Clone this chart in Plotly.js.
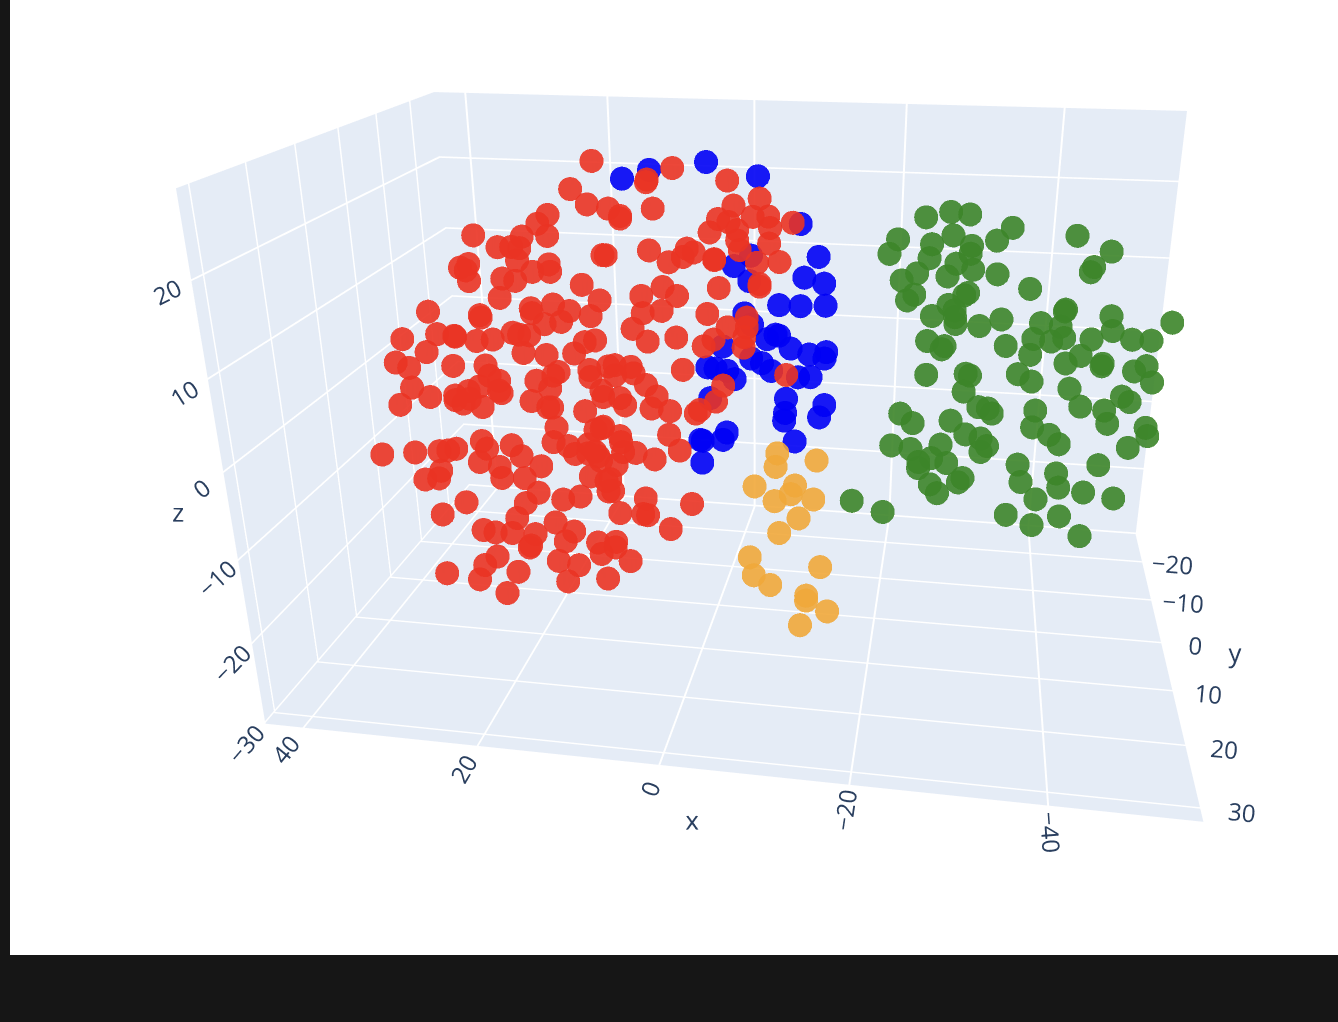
<!DOCTYPE html>
<html>
<head>
<script src="https://cdn.plot.ly/plotly-3.0.1.min.js"></script>
<style>
html,body{margin:0;padding:0;background:#161616;overflow:hidden}
#frame{position:absolute;left:10px;top:0;width:1328px;height:955px;background:#fff;overflow:hidden}
#plot{position:absolute;left:0;top:-137px;width:1492px;height:1069px}
</style>
</head>
<body>
<div id="frame"><div id="plot"></div></div>
<script>
// Values. Depth along y cannot be read from a single view,
// so the points sit on one estimated y plane, apart from a few that fall below the floor there.
const redX = [14.1,16.8,14.9,12.4,19.7,21.0,19.9,29.0,23.0,26.1,24.4,23.4,23.8,12.9,13.3,29.9,31.0,30.3,30.0,19.9,19.8,22.0,25.8,24.2,16.0,26.3,13.9,22.5,22.4,19.7,17.7,15.1,18.8,20.9,29.0,28.9,35.6,34.7,32.5,32.4,29.7,27.6,25.0,24.2,22.9,23.8,20.9,17.4,16.0,14.7,39.3,36.3,40.5,38.8,33.0,28.8,28.4,27.2,38.7,36.4,19.5,20.2,22.4,15.6,15.5,13.2,29.8,31.3,33.1,27.3,20.7,14.2,
	40.5,33.1,32.1,31.2,29.6,27.0,23.2,21.1,20.6,20.2,20.7,16.4,15.2,14.4,14.0,43.7,39.2,35.9,34.7,33.6,30.1,29.5,30.6,26.2,25.0,22.5,28.0,27.8,38.2,35.9,36.3,24.8,23.1,24.9,32.9,19.9,17.6,36.3,26.2,21.1,30.9,29.3,27.0,23.9,24.6,24.8,18.7,19.9,15.6,15.2,21.0,18.3,29.3,31.1,26.6,36.5,32.0,26.3,19.9,14.5,
	18.8,18.0,16.2,16.3,15.4,14.7,16.1,14.1,13.9,11.3,11.9,8.6,7.3,8.0,5.7,5.9,4.6,7.8,10.2,12.0,14.2,12.1,11.8,15.0,12.7,13.6,13.3,9.1,3.2,12.5,9.5,8.9,6.0,13.2,13.3,11.4,2.0,2.5,0,-0.9,
	4.7,7.7,7.8,-1.6,-5.3,-2.3,7.1,11.0,11.0,-0.5,-1.7,-4.5,-6.3,-6.5,-9.1,0.5,-2.7,-2.7,-3.0,-6.4,7.7,3.2,2.4,3.7,5.4,0,0,-5.0,-7.6,-0.5,-5.3,-5.3,6.2,4.5,8.8,8.7,6.4,0.9,10.0,8.2,4.7,-3.8,-3.8,-1.5,0.2,1.4,-3.5,-3.4,4.0,-8.5,12.4,10.4,10.1,12.4];
const redZ = [26.0,22.7,21.0,20.6,19.6,18.5,17.1,16.8,16.9,15.5,15.6,15.5,14.0,15.1,15.1,13.3,12.8,12.5,11.2,13.7,12.8,12.7,11.7,11.5,11.4,9.3,9.6,8.2,7.6,8.8,8.1,7.6,6.7,6.3,7.0,6.7,7.1,4.3,4.2,4.1,3.7,4.0,5.0,4.8,4.8,2.5,2.4,2.8,4.3,4.6,3.4,1.9,0.3,-0.3,0.3,0.6,-0.7,-1.3,-2.9,-4.0,0.3,-0.2,-1.0,0.8,-0.1,1.4,-2.2,-2.9,-3.6,-2.6,-1.9,-1.8,
	-5.3,-4.2,-4.6,-3.9,-4.9,-2.9,-3.7,-4.4,-4.4,-7.0,-9.0,-4.6,-7.0,-6.7,-2.6,-12.3,-11.7,-11.3,-11.1,-10.8,-9.5,-10.5,-12.4,-9.8,-11.2,-12.4,-12.9,-14.4,-15.4,-14.0,-15.1,-14.2,-16.1,-17.7,-18.2,-16.8,-16.2,-20.2,-19.9,-20.1,-22.0,-22.2,-22.1,-22.0,-23.7,-24.0,-21.2,-22.7,-22.5,-24.1,-25.6,-26.0,-25.7,-27.1,-27.7,-28.8,-29.3,-27.9,-28.5,-27.6,
	-9.4,-10.4,-9.0,-10.2,-9.9,-11.1,-13.3,-13.8,-15.2,-3.5,-2.6,-0.7,-2.1,-3.7,-3.9,-7.0,-9.0,-10.4,-9.7,-8.4,-6.5,-7.6,-9.7,-10.5,-11.5,-13.5,-15.1,-15.8,-16.1,-18.1,-18.0,-18.1,-19.8,-22.2,-23.0,-24.8,-3.5,-4.0,-2.3,-0.2,
	25.5,24.1,23.8,24.3,22.4,21.5,20.8,19.8,19.5,19.9,19.6,20.3,20.4,19.1,19.8,18.3,18.7,17.5,16.4,17.3,15.9,16.3,15.9,15.3,14.6,15.2,15.1,15.0,15.2,11.8,12.5,12.2,11.6,10.6,10.4,8.3,8.7,8.6,6.3,4.8,5.5,8.4,7.2,7.1,5.5,4.6,6.0,4.7,1.5,1.6,1.6,1.5,0.7,0.3];
const redY = [0,0,0,0,0,0,0,0,0,0,0,0,0,0,0,0,0,0,0,0,0,0,0,0,0,0,0,0,0,0,0,0,0,0,0,0,0,0,0,0,0,0,0,0,0,0,0,0,0,0,0,0,0,0,0,0,0,0,0,0,0,0,0,0,0,0,0,0,0,0,0,0,
	0,0,0,0,0,0,0,0,0,0,0,0,0,0,0,0,0,0,0,0,0,0,0,0,0,0,0,0,0,0,0,0,0,0,0,0,0,0,0,0,0,0,0,0,0,0,0,0,0,0,0,0,0,0,0,0,0,5,0,0,
	0,0,0,0,0,0,0,0,0,0,0,0,0,0,0,0,0,0,0,0,0,0,0,0,0,0,0,0,0,0,0,0,0,0,0,0,0,0,0,0,
	0,0,0,0,0,0,0,0,0,0,0,0,0,0,0,0,0,0,0,0,0,0,0,0,0,0,0,0,0,0,0,0,0,0,0,0,0,0,0,0,0,0,0,0,0,0,0,0,0,0,0,0,0,0];

const blueX = [10.6,7.4,0.8,-5.1,-10.0,-12.1,-10.5,-12.8,-7.6,-10.1,-13.0,-2.3,-4.3,-4.1,-3.5,-4.4,-0.9,-6.2,-7.2,-7.6,-4.3,-5.6,-6.7,-9.0,-11.2,-13.2,-13.0,-9.9,-11.4,1.0,0,-1.4,-2.3,0.7,1.7,2.0,-0.8,-1.3,1.8,-9.6,-8.5,-8.4,-8.3,-13.1,-12.5];
const blueZ = [24.1,25.2,26.3,24.9,19.7,16.0,13.5,12.9,10.1,10.1,10.3,14.5,15.8,12.8,8.9,7.6,4.7,5.9,6.5,6.4,3.4,2.9,2.0,4.9,4.3,4.7,3.9,1.4,1.5,2.0,1.9,1.7,0.7,-1.9,-7.5,-7.4,-7.2,-6.2,-10.4,-6.8,-1.4,-3.2,-4.2,-1.9,-3.5];
const blueY = [0,0,0,0,0,0,0,0,0,0,0,0,0,0,0,0,0,0,0,0,0,0,0,0,0,0,0,0,0,0,0,0,0,0,0,0,0,0,0,0,0,0,0,0,0];

const orangeX = [-7.5,-7.3,-12.3,-4.7,-9.7,-9.2,-7.2,-12.0,-10.2,-7.8,-4.1,-13.0,-4.6,-6.7,-11.3,-11.3,-14.0,-11.2];
const orangeZ = [-8.5,-10.3,-9.1,-13.1,-12.6,-13.8,-14.9,-14.3,-17.0,-19.2,-22.9,-23.5,-25.4,-26.6,-27.7,-28.4,-29.7,-28.9];
const orangeY = [0,0,0,0,0,0,0,0,0,0,0,0,0,0,0,0,0,5];

const greenX = [-16.7,-20.5,-24.0,-26.7,-28.8,-33.5,-21.0,-20.1,-24.8,-27.1,-29.2,-29.1,-31.9,-24.6,-27.6,-29.5,-26.7,-23.3,-21.6,-32.2,-40.5,-44.3,-42.6,-42.3,-35.9,-23.1,-22.3,-29.1,-28.7,-27.0,-27.7,-27.8,-25.2,-27.9,-30.6,-33.0,-40.0,-39.9,-37.4,-39.6,-45.0,-51.6,-45.3,-47.5,-49.6,-43.1,-40.1,-38.7,-36.7,-24.8,-26.8,-26.5,-33.7,-36.5,-42.1,-44.6,-44.5,-40.5,-48.1,-49.4,
	-24.9,-29.4,-29.9,-29.3,-35.3,-36.9,-50.2,-41.2,-42.6,-47.1,-48.0,-45.3,-45.8,-31.1,-32.2,-32.7,-22.1,-23.6,-28.0,-37.6,-37.4,-39.4,-40.6,-50.1,-50.4,-48.4,-29.8,-31.6,-32.4,-31.7,-21.2,-23.5,-27.0,-26.0,-24.5,-24.5,-27.8,-36.1,-36.6,-40.6,-45.3,-41.0,-43.9,-47.4,-29.8,-29.3,-26.0,-26.9,-38.5,-35.2,-41.4,-38.3,-44.0];
const greenZ = [-14.1,-15.3,21.0,21.7,21.5,20.2,18.4,16.7,18.0,19.1,18.0,17.1,18.7,16.4,15.9,15.3,14.4,14.6,13.7,14.9,19.6,18.0,16.2,15.6,13.4,12.1,11.4,12.6,12.3,11.1,10.5,9.7,9.7,8.9,8.8,9.7,11.2,11.0,9.5,9.2,10.7,10.3,9.0,8.1,8.1,7.9,7.9,7.4,7.6,6.7,6.2,5.8,6.6,5.7,5.9,5.1,4.8,4.9,4.4,5.1,
	2.6,3.0,2.8,0.8,3.3,2.5,3.2,1.9,-0.2,1.3,0.7,-0.5,-2.1,-1.0,-1.1,-1.7,-2.4,-3.5,-2.9,-1.0,-3.1,-3.9,-5.0,-2.3,-3.3,-4.9,-4.5,-4.9,-5.8,-6.6,-6.5,-6.8,-6.0,-7.8,-8.4,-9.2,-8.3,-7.9,-10.1,-8.7,-7.3,-10.5,-10.9,-11.4,-10.1,-10.7,-11.2,-12.3,-12.2,-14.5,-14.2,-15.6,-16.6];
const greenY = [0,0,0,0,0,0,0,0,0,0,0,0,0,0,0,0,0,0,0,0,0,0,0,0,0,0,0,0,0,0,0,0,0,0,0,0,0,0,0,0,0,0,0,0,0,0,0,0,0,0,0,0,0,0,0,0,0,0,0,0,
	0,0,0,0,0,0,0,0,0,0,0,0,0,0,0,0,0,0,0,0,0,0,0,0,0,0,0,0,0,0,0,0,0,0,0,0,0,0,0,0,0,0,0,0,0,0,0,0,0,0,0,0,0,0,0,0,0,0,0,0,0];

function cluster(x, y, z, color) {
	return {
		type: 'scatter3d', mode: 'markers', x: x, y: y, z: z,
		marker: {size: 14, color: color, opacity: 0.9, line: {width: 0}}
	};
}

function axis(title, range, dtick) {
	return {
		title: {text: title, font: {size: 26, color: '#2a3f5f'}},
		range: range, dtick: dtick,
		backgroundcolor: '#E5ECF6', showbackground: true,
		gridcolor: '#fff', gridwidth: 4, zerolinecolor: '#fff', zerolinewidth: 4,
		tickfont: {size: 17, color: '#2a3f5f'},
		// invisible ticks, they only push the labels away from the box
		ticks: 'outside', ticklen: 10, tickwidth: 1, tickcolor: 'rgba(0,0,0,0)'
	};
}

Plotly.newPlot('plot', [
	cluster(blueX, blueY, blueZ, '#0000F5'),
	cluster(redX, redY, redZ, '#EA3323'),
	cluster(orangeX, orangeY, orangeZ, '#F0A83A'),
	cluster(greenX, greenY, greenZ, '#3C8529')
], {
	margin: {l: 0, r: 0, t: 0, b: 0},
	showlegend: false,
	scene: {
		xaxis: axis('x', [-55, 44.5], 20),
		yaxis: axis('y', [-28, 32], 10),
		zaxis: axis('z', [-30.2, 28.8], 10),
		aspectmode: 'manual',
		aspectratio: {x: 1.26, y: 0.78, z: 0.755},
		camera: {eye: {x: -0.289, y: 1.767, z: 0.708}, center: {x: 0, y: 0, z: 0}, up: {x: 0, y: 0, z: 1}}
	}
}, {displayModeBar: false});
</script>
</body>
</html>
